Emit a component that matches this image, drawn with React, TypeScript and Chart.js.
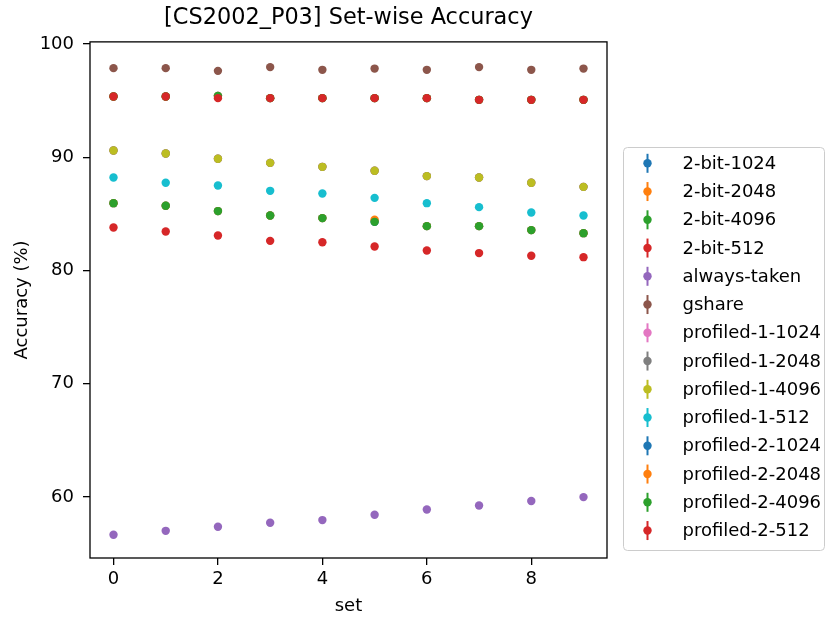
import React, { useEffect, useRef } from "react";
import { Chart, registerables } from "chart.js";

Chart.register(...registerables);

const FONT = "'DejaVu Sans', 'Liberation Sans', sans-serif";

const TITLE = "[CS2002_P03] Set-wise Accuracy";
const X_LABEL = "set";
const Y_LABEL = "Accuracy (%)";

const SETS = [0, 1, 2, 3, 4, 5, 6, 7, 8, 9];
const X_TICKS = [0, 2, 4, 6, 8];
const Y_TICKS = [60, 70, 80, 90, 100];

const SERIES_LABELS = [
  "2-bit-1024",
  "2-bit-2048",
  "2-bit-4096",
  "2-bit-512",
  "always-taken",
  "gshare",
  "profiled-1-1024",
  "profiled-1-2048",
  "profiled-1-4096",
  "profiled-1-512",
  "profiled-2-1024",
  "profiled-2-2048",
  "profiled-2-4096",
  "profiled-2-512",
];

const SERIES_COLORS = [
  "#1f77b4", "#ff7f0e", "#2ca02c", "#d62728", "#9467bd", "#8c564b", "#e377c2",
  "#7f7f7f", "#bcbd22", "#17becf", "#1f77b4", "#ff7f0e", "#2ca02c", "#d62728",
];

const TWO_BIT_1024 = [95.37, 95.37, 95.43, 95.23, 95.23, 95.23, 95.23, 95.08, 95.08, 95.08];
const TWO_BIT_2048 = [95.37, 95.37, 95.43, 95.23, 95.23, 95.23, 95.23, 95.08, 95.08, 95.08];
const TWO_BIT_4096 = [95.37, 95.37, 95.43, 95.23, 95.23, 95.23, 95.23, 95.08, 95.08, 95.08];
const TWO_BIT_512 = [95.37, 95.37, 95.23, 95.23, 95.23, 95.23, 95.23, 95.08, 95.08, 95.08];
const ALWAYS_TAKEN = [56.65, 57.0, 57.36, 57.71, 57.95, 58.42, 58.89, 59.24, 59.63, 59.98];
const GSHARE = [97.88, 97.88, 97.64, 97.97, 97.73, 97.84, 97.73, 97.97, 97.73, 97.84];
const PROFILED_1_1024 = [90.6, 90.34, 89.87, 89.51, 89.16, 88.81, 88.34, 88.22, 87.75, 87.39];
const PROFILED_1_2048 = [90.6, 90.34, 89.87, 89.51, 89.16, 88.81, 88.34, 88.22, 87.75, 87.39];
const PROFILED_1_4096 = [90.6, 90.34, 89.87, 89.51, 89.16, 88.81, 88.34, 88.22, 87.75, 87.39];
const PROFILED_1_512 = [88.22, 87.75, 87.51, 87.04, 86.8, 86.42, 85.95, 85.6, 85.13, 84.86];
const PROFILED_2_1024 = [85.95, 85.72, 85.25, 84.86, 84.63, 84.3, 83.92, 83.92, 83.57, 83.3];
const PROFILED_2_2048 = [85.95, 85.72, 85.25, 84.86, 84.63, 84.48, 83.92, 83.92, 83.57, 83.3];
const PROFILED_2_4096 = [85.95, 85.72, 85.25, 84.86, 84.63, 84.3, 83.92, 83.92, 83.57, 83.3];
const PROFILED_2_512 = [83.8, 83.45, 83.09, 82.62, 82.5, 82.12, 81.77, 81.54, 81.3, 81.18];

const SERIES_VALUES = [
  TWO_BIT_1024, TWO_BIT_2048, TWO_BIT_4096, TWO_BIT_512, ALWAYS_TAKEN, GSHARE,
  PROFILED_1_1024, PROFILED_1_2048, PROFILED_1_4096, PROFILED_1_512,
  PROFILED_2_1024, PROFILED_2_2048, PROFILED_2_4096, PROFILED_2_512,
];

const framePlugin = {
  id: "frame",
  afterDraw(chart: any) {
    const { ctx, chartArea } = chart;
    ctx.save();
    ctx.strokeStyle = "#000";
    ctx.lineWidth = 1.3;
    ctx.strokeRect(chartArea.left, chartArea.top, chartArea.right - chartArea.left, chartArea.bottom - chartArea.top);
    ctx.restore();
  },
};

const legendPlugin = {
  id: "mplLegend",
  afterDraw(chart: any) {
    const { ctx } = chart;
    const lx = 623.5, ly = 147.5, lw = 201, lh = 403;
    ctx.save();
    ctx.beginPath();
    ctx.roundRect(lx, ly, lw, lh, 4);
    ctx.fillStyle = "rgba(255,255,255,0.8)";
    ctx.fill();
    ctx.strokeStyle = "#cccccc";
    ctx.lineWidth = 1;
    ctx.stroke();
    chart.data.datasets.forEach((ds: any, i: number) => {
      const y = 163.3 + i * 28.25;
      const mx = 647.5;
      ctx.strokeStyle = ds.backgroundColor;
      ctx.lineWidth = 2;
      ctx.beginPath();
      ctx.moveTo(mx, y - 9.5);
      ctx.lineTo(mx, y + 9.5);
      ctx.stroke();
      ctx.fillStyle = ds.backgroundColor;
      ctx.beginPath();
      ctx.arc(mx, y, 4.2, 0, Math.PI * 2);
      ctx.fill();
      ctx.fillStyle = "#000";
      ctx.font = `18px ${FONT}`;
      ctx.textBaseline = "middle";
      ctx.textAlign = "left";
      ctx.fillText(ds.label, 682.5, y + 1);
    });
    ctx.restore();
  },
};

export default function App() {
  const canvasRef = useRef<HTMLCanvasElement | null>(null);

  useEffect(() => {
    const canvas = canvasRef.current;
    if (!canvas) return;
    const n = SERIES_LABELS.length;
    const datasets = SERIES_LABELS.map((label, k) => ({
      label,
      data: SETS.map((x, i) => ({ x, y: SERIES_VALUES[k][i] })),
      backgroundColor: SERIES_COLORS[k],
      borderColor: SERIES_COLORS[k],
      pointRadius: 4.2,
      pointBorderWidth: 0,
      pointHoverRadius: 4.2,
      showLine: false,
      order: n - k,
    }));

    const chart = new Chart(canvas, {
      type: "scatter",
      data: { datasets },
      plugins: [framePlugin, legendPlugin],
      options: {
        responsive: false,
        animation: false,
        events: [],
        layout: { padding: { left: 0, top: 0, right: 219, bottom: 0 } },
        plugins: {
          legend: { display: false },
          tooltip: { enabled: false },
          title: {
            display: true,
            text: TITLE,
            fullSize: false,
            color: "#000",
            font: { family: FONT, size: 22.4, weight: "normal" },
            padding: { top: 5, bottom: 10 },
          },
        },
        scales: {
          x: {
            type: "linear",
            min: -0.45,
            max: 9.45,
            afterBuildTicks: (scale: any) => {
              scale.ticks = X_TICKS.map((v) => ({ value: v }));
            },
            afterFit: (scale: any) => {
              scale.height = 61;
            },
            border: { display: false },
            grid: { display: true, drawOnChartArea: false, drawTicks: true, tickLength: 7, color: "#000", lineWidth: 1.3 },
            ticks: { color: "#000", font: { family: FONT, size: 18 }, padding: 4, maxRotation: 0 },
            title: { display: true, text: X_LABEL, color: "#000", font: { family: FONT, size: 18 }, padding: { top: 0, bottom: 2 } },
          },
          y: {
            type: "linear",
            min: 54.6,
            max: 100.2,
            afterBuildTicks: (scale: any) => {
              scale.ticks = Y_TICKS.map((v) => ({ value: v }));
            },
            afterFit: (scale: any) => {
              scale.width = 90;
            },
            border: { display: false },
            grid: { display: true, drawOnChartArea: false, drawTicks: true, tickLength: 7, color: "#000", lineWidth: 1.3 },
            ticks: { color: "#000", font: { family: FONT, size: 18 }, padding: 9 },
            title: { display: true, text: Y_LABEL, color: "#000", font: { family: FONT, size: 18 }, padding: { top: 12, bottom: 0 } },
          },
        },
      },
    } as any);

    return () => chart.destroy();
  }, []);

  return (
    <div style={{ position: "absolute", left: 0, top: 0, width: 826, height: 619, background: "#fff" }}>
      <canvas ref={canvasRef} width={826} height={619} />
    </div>
  );
}
